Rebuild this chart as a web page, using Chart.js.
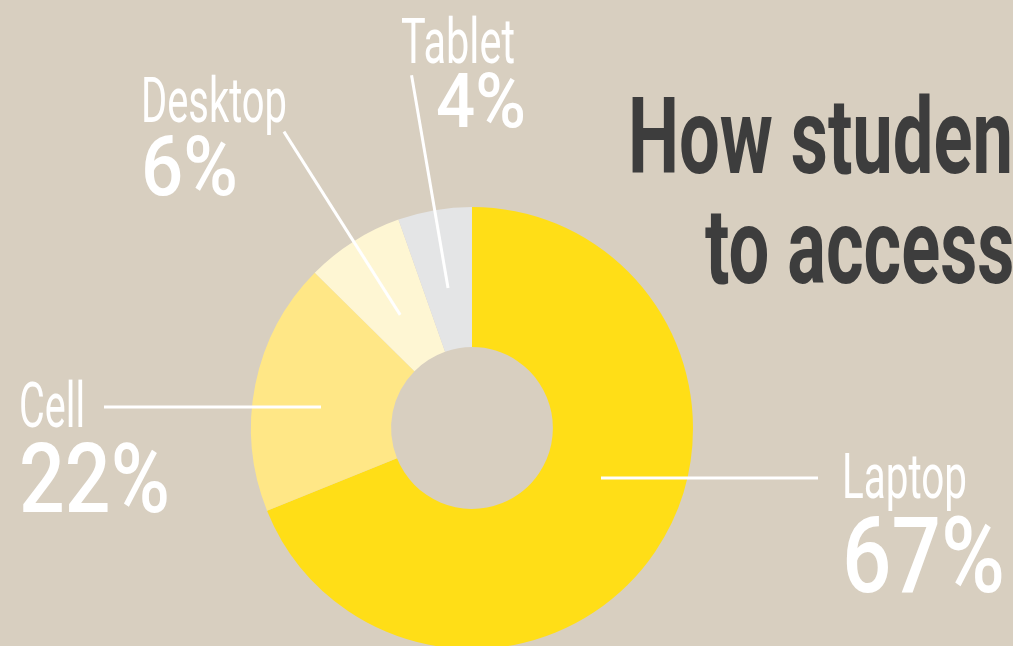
<!DOCTYPE html>
<html>
<head>
<meta charset="utf-8">
<title>Devices</title>
<script src="https://cdn.jsdelivr.net/npm/chart.js@4/dist/chart.umd.min.js"></script>
<style>
  html, body { margin: 0; padding: 0; background: #D8CFC0; overflow: hidden; }
  #wrap { position: relative; width: 1013px; height: 660px; }
</style>
</head>
<body>
<div id="wrap"><canvas id="device-chart"></canvas></div>
<script>
const devices = ['Laptop', 'Cell', 'Desktop', 'Tablet'];
// wedge sizes as they are drawn
const shares = [68.9, 18.5, 7.2, 5.4];
// percentages printed next to each wedge
const shareLabels = ['67%', '22%', '6%', '4%'];
const sliceColors = ['#FFDE17', '#FFE786', '#FEF6D3', '#E4E5E6'];
const titleLines = ['How students use', 'to access the web'];

// draw text squeezed to a given width (condensed look)
function squeezeText(ctx, text, x, y, size, weight, width, color) {
  ctx.save();
  ctx.font = weight + ' ' + size + 'px Roboto';
  const natural = ctx.measureText(text).width;
  ctx.translate(x, y);
  ctx.scale(width / natural, 1);
  ctx.fillStyle = color;
  ctx.textAlign = 'left';
  ctx.textBaseline = 'alphabetic';
  ctx.fillText(text, 0, 0);
  ctx.restore();
}

// label spots for each device
const spots = {
  Laptop:  { x: 842, nameY: 498, nameW: 125, pctY: 592, pctSize: 105, pctW: 163 },
  Cell:    { x: 19,  nameY: 427, nameW: 66,  pctY: 512, pctSize: 97,  pctW: 151 },
  Desktop: { x: 141, nameY: 122, nameW: 146, pctY: 195, pctSize: 84,  pctW: 97 },
  Tablet:  { x: 401, nameY: 63,  nameW: 114, pctY: 127, pctSize: 76,  pctW: 90, pctX: 436 }
};

const callouts = {
  id: 'callouts',
  afterDatasetsDraw(chart) {
    const ctx = chart.ctx;
    const arcs = chart.getDatasetMeta(0).data;
    ctx.save();
    ctx.strokeStyle = '#FFFFFF';
    ctx.lineWidth = 3;
    arcs.forEach((arc, i) => {
      const cx = arc.x, cy = arc.y;
      const mid = (arc.startAngle + arc.endAngle) / 2;
      ctx.beginPath();
      if (devices[i] === 'Tablet' || devices[i] === 'Desktop') {
        const r0 = devices[i] === 'Tablet' ? 142 : 134;
        const r1 = devices[i] === 'Tablet' ? 358 : 351;
        ctx.moveTo(cx + r0 * Math.cos(mid), cy + r0 * Math.sin(mid));
        ctx.lineTo(cx + r1 * Math.cos(mid), cy + r1 * Math.sin(mid));
      } else if (devices[i] === 'Cell') {
        ctx.moveTo(cx - 368, cy - 21);
        ctx.lineTo(cx - 151, cy - 21);
      } else {
        ctx.moveTo(cx + 129, cy + 50);
        ctx.lineTo(cx + 346, cy + 50);
      }
      ctx.stroke();
    });
    ctx.restore();
  },
  afterDraw(chart) {
    const ctx = chart.ctx;
    devices.forEach((d, i) => {
      const s = spots[d];
      squeezeText(ctx, d, s.x, s.nameY, 63, 400, s.nameW, '#FFFFFF');
      squeezeText(ctx, shareLabels[i], s.pctX || s.x, s.pctY, s.pctSize, 500, s.pctW, '#FFFFFF');
    });
    // title, cut off at the right edge
    ctx.save();
    ctx.font = '700 105px Roboto';
    const k = 385 / ctx.measureText('How studen').width;
    ctx.restore();
    [[titleLines[0], 628, 173], [titleLines[1], 705, 283]].forEach(([t, x, y]) => {
      ctx.save();
      ctx.font = '700 105px Roboto';
      ctx.translate(x, y);
      ctx.scale(k, 1);
      ctx.fillStyle = '#3D3D3D';
      ctx.fillText(t, 0, 0);
      ctx.restore();
    });
  }
};

const config = {
  type: 'doughnut',
  data: {
    labels: devices,
    datasets: [{
      data: shares,
      backgroundColor: sliceColors,
      borderWidth: 0,
      offset: 0,
      hoverOffset: 0
    }]
  },
  options: {
    responsive: true,
    maintainAspectRatio: false,
    animation: false,
    cutout: '36.6%',
    layout: { padding: { left: 251, right: 320, top: 207, bottom: 11 } },
    events: [],
    plugins: {
      legend: { display: false },
      tooltip: { enabled: false },
      title: { display: false }
    }
  },
  plugins: [callouts]
};

const ctx = document.getElementById('device-chart').getContext('2d');
const myChart = new Chart(ctx, config);
</script>
</body>
</html>
